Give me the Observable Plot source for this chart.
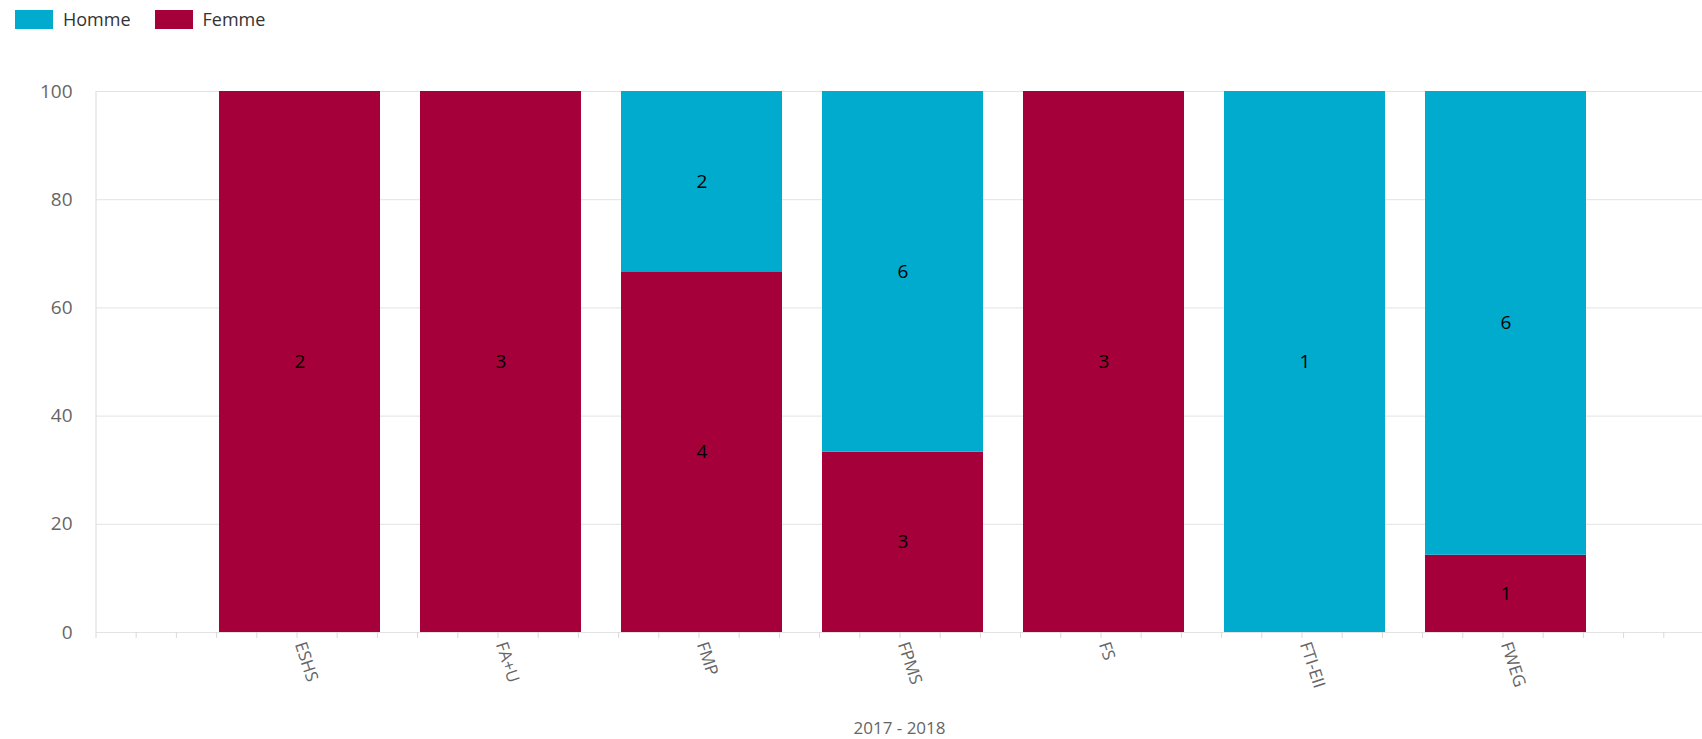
<!DOCTYPE html>
<html><head><meta charset="utf-8">
<script src="https://cdn.jsdelivr.net/npm/d3@7"></script>
<script src="https://cdn.jsdelivr.net/npm/@observablehq/plot@0.6"></script>
<style>
body{margin:0;background:#fff;font-family:"Open Sans","Noto Sans",sans-serif;overflow:hidden;}
#legend{height:40px;display:flex;align-items:flex-start;padding-left:15px;box-sizing:border-box;}
.item{display:flex;align-items:center;margin-top:10px;margin-right:24px;font-size:18px;color:#333;line-height:19px;}
.sw{width:38px;height:19px;margin-right:10px;}
#chart svg{display:block;}
</style></head><body>
<div id="legend"></div><div id="chart"></div>
<script>
const categories = ["ESHS","FA+U","FMP","FPMS","FS","FTI-EII","FWEG"];
const hommeCounts = [0,0,2,6,0,1,6];
const femmeCounts = [2,3,4,3,3,0,1];
const genders = ["Homme","Femme"];
const colors = ["#00abcd","#a6003a"];
const yTicks = [0,20,40,60,80,100];
const yearLabel = "2017 - 2018";

// rows: Femme first so it stacks at the bottom
const rows = [];
categories.forEach((c,i)=>{
  const total = hommeCounts[i] + femmeCounts[i];
  [["Femme",femmeCounts[i]],["Homme",hommeCounts[i]]].forEach(([g,n])=>{
    if(n>0) rows.push({category:c, gender:g, count:n, pct:n/total*100});
  });
});

// legend
const legend = d3.select("#legend");
genders.forEach((g,i)=>{
  const it = legend.append("div").attr("class","item");
  it.append("div").attr("class","sw").style("background",colors[i]);
  it.append("span").text(g);
});

const W = 1702, H = 699;
const chart = Plot.plot({
  width: W, height: H,
  marginTop: 51, marginBottom: 107, marginLeft: 96, marginRight: 0,
  style: {fontFamily:'"Open Sans","Noto Sans",sans-serif', background:"#fff", overflow:"visible"},
  x: {type:"band", domain: categories, range:[95,1709], paddingInner:0.2, paddingOuter:0.6},
  y: {domain:[0,100]},
  color: {domain: genders, range: colors},
  marks: [
    Plot.gridY(yTicks, {stroke:"#e3e3e3", strokeOpacity:1}),
    Plot.barY(rows, {x:"category", y:"pct", fill:"gender"}),
    Plot.text(rows, Plot.stackY({x:"category", y:"pct", z:"gender", text:"count", fill:"#000", fontSize:19})),
    Plot.axisY(yTicks, {tickSize:0, tickPadding:24, fontSize:19, fill:"#666", label:null}),
    Plot.axisX({tickSize:0, tickRotate:72, tickPadding:10, fontSize:17, fill:"#666",
      label: yearLabel, labelAnchor:"center", labelOffset:101, labelArrow:"none"})
  ]
});
document.getElementById("chart").appendChild(chart);

// minor axis ticks and left axis line, from Plot's x scale
const xs = chart.scale("x");
const unit = xs.step / 5;
const svg = d3.select(chart);
const yBottom = H - 107, yTop = 51;
const g = svg.append("g").attr("stroke","#d9d9d9").attr("stroke-width",1);
for (let p = xs.range[0] + 1; p <= W + 0.5; p += unit) {
  g.append("line").attr("x1",p).attr("x2",p).attr("y1",yBottom).attr("y2",yBottom+6);
}
g.append("line").attr("x1",96).attr("x2",96).attr("y1",yTop).attr("y2",yBottom);
</script>
</body></html>
